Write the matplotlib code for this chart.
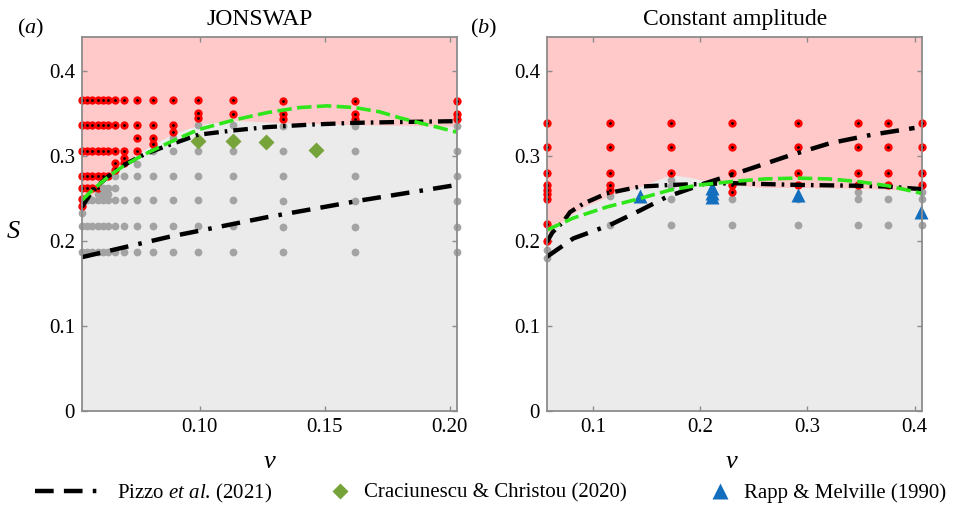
import matplotlib
matplotlib.use('Agg')
import matplotlib.pyplot as plt
from matplotlib.lines import Line2D

plt.rcParams['font.family'] = ['Liberation Serif', 'DejaVu Serif']
plt.rcParams['mathtext.fontset'] = 'custom'
plt.rcParams['mathtext.rm'] = 'Liberation Serif'
plt.rcParams['mathtext.it'] = 'Liberation Serif:italic'

# ---------------- (a) JONSWAP ----------------
jon_nu = [0.053, 0.055, 0.057, 0.0595, 0.0615, 0.0635, 0.066, 0.0697,
          0.075, 0.0812, 0.0893, 0.0995, 0.1133, 0.1333, 0.162, 0.203]
jon_red = [
    [0.366, 0.336, 0.306, 0.276, 0.262, 0.249, 0.241],
    [0.366, 0.336, 0.306, 0.276, 0.262],
    [0.366, 0.336, 0.306, 0.276, 0.262],
    [0.366, 0.336, 0.306, 0.276, 0.262],
    [0.366, 0.336, 0.306, 0.276],
    [0.366, 0.336, 0.306, 0.276],
    [0.366, 0.336, 0.306, 0.292, 0.284],
    [0.366, 0.336, 0.306, 0.298, 0.292],
    [0.366, 0.336, 0.321, 0.306],
    [0.366, 0.336, 0.321, 0.314],
    [0.366, 0.336, 0.328],
    [0.366, 0.351, 0.345],
    [0.366, 0.350],
    [0.365, 0.350, 0.343],
    [0.365, 0.350, 0.343],
    [0.365, 0.350, 0.343],
]
jon_grey = [
    [0.233, 0.218, 0.187],
    [0.248, 0.218, 0.187],
    [0.248, 0.218, 0.187],
    [0.255, 0.248, 0.218, 0.187],
    [0.262, 0.255, 0.248, 0.218, 0.187],
    [0.262, 0.255, 0.248, 0.218, 0.187],
    [0.276, 0.262, 0.248, 0.218, 0.187],
    [0.277, 0.248, 0.218, 0.187],
    [0.291, 0.277, 0.248, 0.218, 0.187],
    [0.306, 0.277, 0.248, 0.218, 0.187],
    [0.321, 0.306, 0.277, 0.248, 0.218, 0.187],
    [0.336, 0.306, 0.277, 0.248, 0.218, 0.187],
    [0.336, 0.306, 0.277, 0.248, 0.218, 0.187],
    [0.335, 0.306, 0.277, 0.247, 0.217, 0.187],
    [0.335, 0.306, 0.277, 0.247, 0.217, 0.187],
    [0.335, 0.306, 0.277, 0.247, 0.217, 0.187],
]
jon_edge_nu = [0.053, 0.056, 0.059, 0.062, 0.066, 0.070, 0.075, 0.081,
               0.088, 0.095, 0.102, 0.115, 0.133, 0.16, 0.203]
jon_edge_S = [0.236, 0.250, 0.262, 0.271, 0.281, 0.291, 0.302, 0.313,
              0.324, 0.332, 0.338, 0.342, 0.339, 0.337, 0.335]
jon_fit_nu = [0.053, 0.0565, 0.060, 0.0635, 0.0675, 0.072, 0.078, 0.086,
              0.0995, 0.1133, 0.127, 0.145, 0.162, 0.18, 0.203]
jon_fit_S = [0.240, 0.256, 0.267, 0.276, 0.285, 0.293, 0.302, 0.311,
             0.325, 0.330, 0.334, 0.337, 0.339, 0.340, 0.341]
jon_green_nu = [0.053, 0.0565, 0.060, 0.065, 0.070, 0.078, 0.088, 0.0995, 0.1133,
                0.127, 0.14, 0.151, 0.162, 0.172, 0.18, 0.188, 0.195, 0.203]
jon_green_S = [0.248, 0.258, 0.267, 0.279, 0.289, 0.302, 0.316, 0.331, 0.342,
               0.351, 0.357, 0.359, 0.357, 0.352, 0.345, 0.339, 0.334, 0.328]
jon_pizzo_nu = [0.053, 0.088, 0.127, 0.165, 0.203]
jon_pizzo_S = [0.181, 0.205, 0.228, 0.248, 0.266]
cc_nu = [0.0995, 0.1133, 0.1267, 0.1464]
cc_S = [0.318, 0.318, 0.317, 0.307]

# ---------------- (b) Constant amplitude ----------------
const_nu = [0.057, 0.116, 0.173, 0.230, 0.291, 0.347, 0.375, 0.407]
const_red = [
    [0.339, 0.310, 0.280, 0.266, 0.260, 0.255, 0.249, 0.220, 0.200],
    [0.339, 0.310, 0.280, 0.266, 0.260],
    [0.339, 0.310, 0.280],
    [0.339, 0.310, 0.280, 0.266, 0.258],
    [0.339, 0.310, 0.280, 0.266],
    [0.339, 0.310, 0.280, 0.266],
    [0.339, 0.310, 0.280, 0.266],
    [0.339, 0.310, 0.280, 0.266],
]
const_grey = [
    [0.189, 0.180],
    [0.253, 0.219],
    [0.272, 0.265, 0.249, 0.219],
    [0.249, 0.219],
    [0.249, 0.219],
    [0.258, 0.249, 0.219],
    [0.249, 0.219],
    [0.258, 0.249, 0.219],
]
const_edge_nu = [0.057, 0.07, 0.082, 0.095, 0.113, 0.13, 0.144, 0.16,
                 0.173, 0.19, 0.2, 0.23, 0.26, 0.3, 0.35, 0.407]
const_edge_S = [0.209, 0.222, 0.233, 0.242, 0.252, 0.259, 0.264, 0.272,
                0.278, 0.275, 0.272, 0.266, 0.263, 0.263, 0.262, 0.259]
const_fit_nu = [0.057, 0.062, 0.0723, 0.0785, 0.091, 0.1127, 0.1438, 0.173,
                0.2, 0.23, 0.26, 0.291, 0.347, 0.375, 0.407]
const_fit_S = [0.199, 0.210, 0.223, 0.234, 0.244, 0.256, 0.264, 0.266,
               0.267, 0.268, 0.267, 0.266, 0.265, 0.264, 0.261]
const_green_nu = [0.057, 0.0815, 0.1127, 0.1438, 0.172, 0.2, 0.23, 0.26,
                  0.291, 0.32, 0.347, 0.375, 0.407]
const_green_S = [0.213, 0.227, 0.240, 0.250, 0.260, 0.266, 0.270, 0.273,
                 0.274, 0.273, 0.270, 0.265, 0.256]
const_pizzo_nu = [0.057, 0.0815, 0.116, 0.144, 0.169, 0.205, 0.243, 0.282,
                  0.321, 0.36, 0.40]
const_pizzo_S = [0.1815, 0.203, 0.219, 0.236, 0.252, 0.268, 0.2835, 0.300,
                 0.315, 0.325, 0.333]
rm_nu = [0.144, 0.2107, 0.2107, 0.2107, 0.2915, 0.4058]
rm_S = [0.253, 0.252, 0.257, 0.262, 0.254, 0.234]

ytick_vals = [0, 0.1, 0.2, 0.3, 0.4]
ytick_labels = ['0', '0.1', '0.2', '0.3', '0.4']

PINK = '#ffc9c9'
GREY_BG = '#ebebeb'
GREY_DOT = '#a3a3a3'
GREEN = '#2ee61a'
DIAMOND = '#76a33a'
TRIANGLE = '#146ebe'
SPINE = '#8c8c8c'

W, H = 957, 509
fig = plt.figure(figsize=(W / 100, H / 100), dpi=100)


def px_axes(x0, y0, x1, y1):
    return fig.add_axes([x0 / W, 1 - y1 / H, (x1 - x0) / W, (y1 - y0) / H])


def style(ax, xlim, xticks, xlabels):
    ax.set_xlim(*xlim)
    ax.set_ylim(0, 0.44)
    ax.set_facecolor(PINK)
    ax.set_xticks(xticks)
    ax.set_xticklabels(xlabels)
    ax.set_yticks(ytick_vals)
    ax.set_yticklabels(ytick_labels)
    ax.tick_params(direction='in', top=True, right=True, length=3.5, width=1,
                   color=SPINE, labelsize=15, pad=5)
    for s in ax.spines.values():
        s.set_color(SPINE)
        s.set_linewidth(1.3)
        s.set_zorder(6)


def draw_dots(ax, nus, reds, greys):
    for nu, r, g in zip(nus, reds, greys):
        ax.plot([nu] * len(g), g, 'o', ms=5.6, color=GREY_DOT, mec='none',
                clip_on=False, zorder=3)
        ax.plot([nu] * len(r), r, 'o', ms=6.0, color='red', mec='none',
                clip_on=False, zorder=3)
        ax.plot([nu] * len(r), r, 'o', ms=2.0, color='black', mec='none',
                clip_on=False, zorder=3.1)


def draw_lines(ax, fit, green, pizzo):
    ax.plot(*fit, color='black', lw=3.1, dashes=(3.4, 1.4, 0.6, 1.4), zorder=5)
    ax.plot(*green, color=GREEN, lw=2.6, dashes=(4, 1.5), zorder=5.1)
    line, = ax.plot(*pizzo, color='black', lw=3.2,
                    dashes=(4.2, 2.3, 4.2, 2.3, 0.8, 2.3), zorder=5)
    return line


ax_a = px_axes(82, 37, 457, 411)
ax_b = px_axes(547, 37, 922, 411)

style(ax_a, (0.053, 0.203), [0.10, 0.15, 0.20], ['0.10', '0.15', '0.20'])
style(ax_b, (0.057, 0.407), [0.1, 0.2, 0.3, 0.4], ['0.1', '0.2', '0.3', '0.4'])

ax_a.fill_between(jon_edge_nu, 0, jon_edge_S, color=GREY_BG, lw=0, zorder=1)
ax_b.fill_between(const_edge_nu, 0, const_edge_S, color=GREY_BG, lw=0, zorder=1)

draw_dots(ax_a, jon_nu, jon_red, jon_grey)
draw_dots(ax_b, const_nu, const_red, const_grey)

ax_a.plot(cc_nu, cc_S, 'D', ms=8.2, color=DIAMOND, mec='none', zorder=4)
ax_b.plot(rm_nu, rm_S, '^', ms=10.5, color=TRIANGLE, mec='none', zorder=4,
          clip_on=False)

pizzo_line = draw_lines(ax_a, (jon_fit_nu, jon_fit_S), (jon_green_nu, jon_green_S),
                        (jon_pizzo_nu, jon_pizzo_S))
draw_lines(ax_b, (const_fit_nu, const_fit_S), (const_green_nu, const_green_S),
           (const_pizzo_nu, const_pizzo_S))

# texts
fig.text(260 / W, 1 - 25 / H, 'JONSWAP', ha='center', va='baseline', fontsize=17)
fig.text(735 / W, 1 - 25 / H, 'Constant amplitude', ha='center', va='baseline',
         fontsize=17)
fig.text(17 / W, 1 - 33 / H, r'($\mathit{a}$)', ha='left', va='baseline', fontsize=16)
fig.text(470 / W, 1 - 33 / H, r'($\mathit{b}$)', ha='left', va='baseline', fontsize=16)
fig.text(13 / W, 1 - 238 / H, 'S', style='italic', ha='center', va='baseline',
         fontsize=19)
fig.text(270 / W, 1 - 468 / H, 'ν', style='italic', ha='center', va='baseline',
         fontsize=19)
fig.text(732 / W, 1 - 468 / H, 'ν', style='italic', ha='center', va='baseline',
         fontsize=19)

# legend, one entry per box so each sits where it does in the figure
leg_y = 1 - 493 / H
common = dict(loc='center left', frameon=False, borderpad=0, borderaxespad=0,
              fontsize=15)
h_diamond = Line2D([], [], ls='none', marker='D', ms=8.5, color=DIAMOND, mec='none')
h_tri = Line2D([], [], ls='none', marker='^', ms=11, color=TRIANGLE, mec='none')
fig.legend([pizzo_line], [r'Pizzo $\mathit{et\ al}$. (2021)'],
           bbox_to_anchor=(35 / W, leg_y), handlelength=3.1, handletextpad=0.85,
           **common)
fig.legend([h_diamond], ['Craciunescu & Christou (2020)'],
           bbox_to_anchor=(330 / W, leg_y), handlelength=1.0, handletextpad=0.65,
           **common)
fig.legend([h_tri], ['Rapp & Melville (1990)'],
           bbox_to_anchor=(710 / W, leg_y), handlelength=1.0, handletextpad=0.65,
           **common)

fig.savefig('out.png', dpi=100)
